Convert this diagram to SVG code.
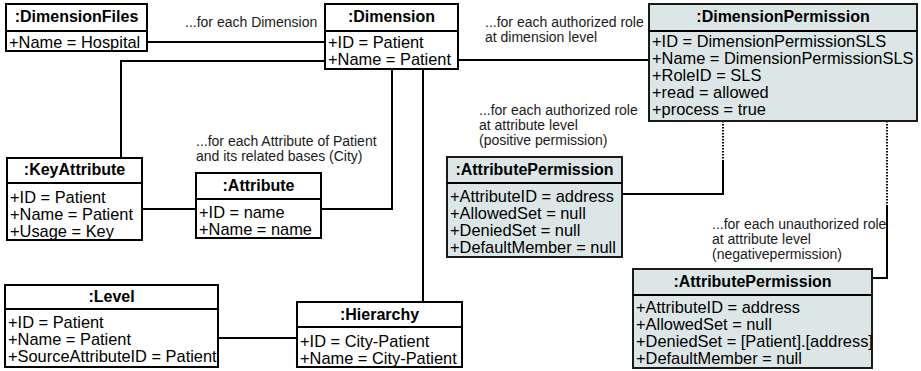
<svg xmlns="http://www.w3.org/2000/svg" width="921" height="371" viewBox="0 0 921 371">
  <defs>
    <style>
      .box { fill: #ffffff; stroke: #000000; stroke-width: 2; }
      .perm { fill: #dce6e6; stroke: #1a1a1a; stroke-width: 2; }
      .sep { stroke: #000000; stroke-width: 2; }
      .title { font-family: "Liberation Sans", Arial, sans-serif; font-size: 16px; font-weight: bold; text-anchor: middle; fill: #000000; }
      .attr { font-family: "Liberation Sans", Arial, sans-serif; font-size: 16.4px; fill: #000000; }
      .note { font-family: "Liberation Sans", Arial, sans-serif; font-size: 14px; fill: #1a1a1a; }
      .link { fill: none; stroke: #000000; stroke-width: 2; }
      .dotted { fill: none; stroke: #000000; stroke-width: 2; stroke-dasharray: 1.5 1.5; }
    </style>
  </defs>
  <rect width="921" height="371" fill="#ffffff"/>

  <!-- connectors -->
  <g id="connectors">
    <polyline class="link" points="147,42 325,42"/>
    <polyline class="link" points="325,61 121,61 121,158"/>
    <polyline class="link" points="142,209 196,209"/>
    <polyline class="link" points="392,69 392,209 321,209"/>
    <polyline class="link" points="423,69 423,302"/>
    <polyline class="link" points="218,338 297,338"/>
    <polyline class="link" points="458,60 649,60"/>
    <polyline class="dotted" points="723,121 723,160"/>
    <polyline class="link" points="723,160 723,194 622,194"/>
    <polyline class="dotted" points="887,121 887,205"/>
    <polyline class="link" points="887,205 887,278 872,278"/>
  </g>

  <!-- connector notes -->
  <g id="notes">
    <text class="note" x="185" y="27">...for each Dimension</text>
    <text class="note" x="485" y="27">...for each authorized role</text>
    <text class="note" x="485" y="42">at dimension level</text>
    <text class="note" x="196" y="146">...for each Attribute of Patient</text>
    <text class="note" x="196" y="161">and its related bases (City)</text>
    <text class="note" x="479" y="115">...for each authorized role</text>
    <text class="note" x="479" y="130">at attribute level</text>
    <text class="note" x="479" y="145">(positive permission)</text>
    <text class="note" x="712" y="229">...for each unauthorized role</text>
    <text class="note" x="712" y="244">at attribute level</text>
    <text class="note" x="712" y="259">(negativepermission)</text>
  </g>

  <g id="dimensionFiles">
    <rect class="box" x="6" y="4" width="141" height="47"/>
    <line class="sep" x1="6" y1="31" x2="147" y2="31"/>
    <text class="title" x="76.5" y="22">:DimensionFiles</text>
    <text class="attr" x="9" y="48">+Name = Hospital</text>
  </g>

  <g id="dimension">
    <rect class="box" x="325" y="4" width="133" height="65"/>
    <line class="sep" x1="325" y1="31" x2="458" y2="31"/>
    <text class="title" x="391.5" y="22">:Dimension</text>
    <text class="attr" x="328" y="48">+ID = Patient</text>
    <text class="attr" x="328" y="65">+Name = Patient</text>
  </g>

  <g id="dimensionPermission">
    <rect class="perm" x="649" y="4" width="268" height="117"/>
    <line class="sep" x1="649" y1="31" x2="917" y2="31"/>
    <text class="title" x="783" y="22">:DimensionPermission</text>
    <text class="attr" x="652" y="47">+ID = DimensionPermissionSLS</text>
    <text class="attr" x="652" y="64">+Name = DimensionPermissionSLS</text>
    <text class="attr" x="652" y="81">+RoleID = SLS</text>
    <text class="attr" x="652" y="98">+read = allowed</text>
    <text class="attr" x="652" y="115">+process = true</text>
  </g>

  <g id="keyAttribute">
    <rect class="box" x="7" y="158" width="135" height="82"/>
    <line class="sep" x1="7" y1="183" x2="142" y2="183"/>
    <text class="title" x="74.5" y="175">:KeyAttribute</text>
    <text class="attr" x="10" y="203">+ID = Patient</text>
    <text class="attr" x="10" y="220">+Name = Patient</text>
    <text class="attr" x="10" y="237">+Usage = Key</text>
  </g>

  <g id="attribute">
    <rect class="box" x="196" y="173" width="125" height="65"/>
    <line class="sep" x1="196" y1="199" x2="321" y2="199"/>
    <text class="title" x="258.5" y="191">:Attribute</text>
    <text class="attr" x="199" y="218">+ID = name</text>
    <text class="attr" x="199" y="235">+Name = name</text>
  </g>

  <g id="attributePermissionPositive">
    <rect class="perm" x="447" y="157" width="175" height="100"/>
    <line class="sep" x1="447" y1="183" x2="622" y2="183"/>
    <text class="title" x="534.5" y="175">:AttributePermission</text>
    <text class="attr" x="450" y="202">+AttributeID = address</text>
    <text class="attr" x="450" y="219">+AllowedSet = null</text>
    <text class="attr" x="450" y="236">+DeniedSet = null</text>
    <text class="attr" x="450" y="253">+DefaultMember = null</text>
  </g>

  <g id="attributePermissionNegative">
    <rect class="perm" x="633" y="269" width="239" height="99"/>
    <line class="sep" x1="633" y1="295" x2="872" y2="295"/>
    <text class="title" x="752.5" y="287">:AttributePermission</text>
    <text class="attr" x="636" y="313">+AttributeID = address</text>
    <text class="attr" x="636" y="330">+AllowedSet = null</text>
    <text class="attr" x="636" y="347">+DeniedSet = [Patient].[address]</text>
    <text class="attr" x="636" y="364">+DefaultMember = null</text>
  </g>

  <g id="level">
    <rect class="box" x="5" y="285" width="213" height="82"/>
    <line class="sep" x1="5" y1="309" x2="218" y2="309"/>
    <text class="title" x="111.5" y="302">:Level</text>
    <text class="attr" x="8" y="328">+ID = Patient</text>
    <text class="attr" x="8" y="345">+Name = Patient</text>
    <text class="attr" x="8" y="362">+SourceAttributeID = Patient</text>
  </g>

  <g id="hierarchy">
    <rect class="box" x="297" y="302" width="165" height="65"/>
    <line class="sep" x1="297" y1="327" x2="462" y2="327"/>
    <text class="title" x="379.5" y="320">:Hierarchy</text>
    <text class="attr" x="300" y="347">+ID = City-Patient</text>
    <text class="attr" x="300" y="364">+Name = City-Patient</text>
  </g>
</svg>
